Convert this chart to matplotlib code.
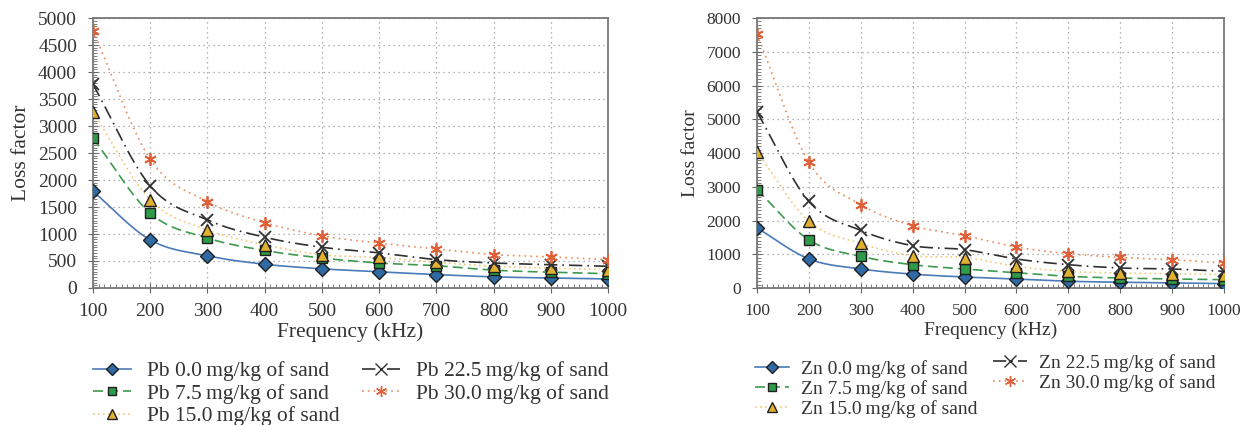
import numpy as np
import matplotlib
matplotlib.use("Agg")
import matplotlib.pyplot as plt
from matplotlib.ticker import MultipleLocator

plt.rcParams['font.family'] = ['Liberation Serif', 'DejaVu Serif']

freq = [100, 200, 300, 400, 500, 600, 700, 800, 900, 1000]

pb_0 = [1790, 890, 595, 440, 355, 300, 248, 206, 185, 167]
pb_75 = [2775, 1385, 925, 695, 555, 463, 413, 330, 292, 265]
pb_15 = [3255, 1630, 1075, 800, 615, 565, 474, 402, 370, 340]
pb_225 = [3770, 1890, 1260, 940, 755, 650, 525, 463, 432, 402]
pb_30 = [4765, 2385, 1600, 1210, 965, 833, 722, 620, 575, 525]

zn_0 = [1780, 860, 565, 410, 326, 268, 200, 170, 150, 130]
zn_75 = [2915, 1425, 936, 690, 563, 450, 345, 296, 267, 246]
zn_15 = [4030, 1975, 1320, 957, 900, 640, 492, 444, 424, 394]
zn_225 = [5215, 2566, 1707, 1254, 1136, 859, 690, 593, 563, 495]
zn_30 = [7526, 3722, 2469, 1846, 1550, 1215, 1017, 908, 839, 741]

levels = ['0.0', '7.5', '15.0', '22.5', '30.0']

styles = [
    dict(color='#4a7ab8', ls='-', marker='D', mfc='#2f6aa5', ms=7),
    dict(color='#3d9a4e', ls=(0, (6, 3)), marker='s', mfc='#2f9a48', ms=7),
    dict(color='#f0c878', ls=(0, (1, 2)), marker='^', mfc='#e0b030', ms=8),
    dict(color='#303030', ls=(0, (8, 3, 1, 3)), marker='x', mfc='#303030', ms=9),
    dict(color='#e8895a', ls=(0, (1, 2.5)), marker=(6, 2, 0), mfc='#e0603a', ms=9),
]

TXT = '#333333'


def smooth(x, y, n=25):
    # catmull-rom curve through the points, like excel's smoothed line
    pts = np.column_stack([x, y]).astype(float)
    P = np.vstack([2 * pts[0] - pts[1], pts, 2 * pts[-1] - pts[-2]])
    t = np.linspace(0, 1, n)[:, None]
    out = []
    for i in range(len(pts) - 1):
        p0, p1, p2, p3 = P[i], P[i + 1], P[i + 2], P[i + 3]
        seg = 0.5 * ((2 * p1) + (-p0 + p2) * t + (2 * p0 - 5 * p1 + 4 * p2 - p3) * t ** 2
                     + (-p0 + 3 * p1 - 3 * p2 + p3) * t ** 3)
        out.append(seg if i == 0 else seg[1:])
    c = np.vstack(out)
    return c[:, 0], c[:, 1]


def draw(ax, series, metal, ymax, ystep, yminor, fs_tick, fs_lab):
    handles = []
    for vals, lev, st in zip(series, levels, styles):
        sx, sy = smooth(freq, vals)
        ax.plot(sx, sy, color=st['color'], ls=st['ls'], lw=1.2, zorder=2)
        filled = st['marker'] in ('D', 's', '^')
        mec = '#1f1f1f' if filled else st['mfc']
        ax.plot(freq, vals, ls='none', marker=st['marker'], ms=st['ms'], mfc=st['mfc'],
                mec=mec, mew=1.0 if filled else 1.3, zorder=3)
        h, = ax.plot([], [], color=st['color'], ls=st['ls'], lw=1.2, marker=st['marker'],
                     ms=st['ms'] - 1, mfc=st['mfc'], mec=mec)
        handles.append((h, f"{metal} {lev}\u2009mg/kg of sand"))
    ax.set_xlim(100, 1000)
    ax.set_ylim(0, ymax)
    ax.xaxis.set_major_locator(MultipleLocator(100))
    ax.xaxis.set_minor_locator(MultipleLocator(10))
    ax.yaxis.set_major_locator(MultipleLocator(ystep))
    ax.yaxis.set_minor_locator(MultipleLocator(yminor))
    ax.grid(True, which='major', ls=(0, (1, 3)), color='#999999', lw=0.9)
    ax.tick_params(which='major', direction='inout', length=7, color='#666666',
                   labelsize=fs_tick, labelcolor=TXT)
    ax.tick_params(axis='x', which='major', pad=7)
    ax.tick_params(axis='y', which='major', pad=8)
    ax.tick_params(which='minor', direction='in', length=3, color='#666666')
    for s in ax.spines.values():
        s.set_color('#777777')
        s.set_linewidth(1.3)
    ax.set_xlabel('Frequency (kHz)', fontsize=fs_lab, color=TXT, labelpad=2)
    ax.set_ylabel('Loss factor', fontsize=fs_lab, color=TXT, labelpad=5)
    return handles


fig = plt.figure(figsize=(12.54, 4.25), dpi=100)
ax1 = fig.add_axes([0.0742, 0.3224, 0.4107, 0.635])
ax2 = fig.add_axes([0.6037, 0.3224, 0.3724, 0.635])

h1 = draw(ax1, [pb_0, pb_75, pb_15, pb_225, pb_30], 'Pb', 5000, 500, 50, 14, 15.5)
h2 = draw(ax2, [zn_0, zn_75, zn_15, zn_225, zn_30], 'Zn', 8000, 1000, 100, 12.5, 14)

# one legend per column: handles, left px, top px, font size, text pad
legend_cols = [
    (h1[:3], 93, 361, 15.5, 0.75),
    (h1[3:], 362, 361, 15.5, 0.75),
    (h2[:3], 755, 360, 14, 0.6),
    (h2[3:], 993, 354, 14, 0.6),
]
for hs, px, py, fs, tp in legend_cols:
    fig.legend([h for h, _ in hs], [l for _, l in hs], loc='upper left',
               bbox_to_anchor=(px / 1254, 1 - py / 425), ncol=1, frameon=False,
               fontsize=fs, borderpad=0, borderaxespad=0, handlelength=1.75,
               handletextpad=tp, labelspacing=0.12, labelcolor=TXT)

fig.savefig('out.png', dpi=100)
